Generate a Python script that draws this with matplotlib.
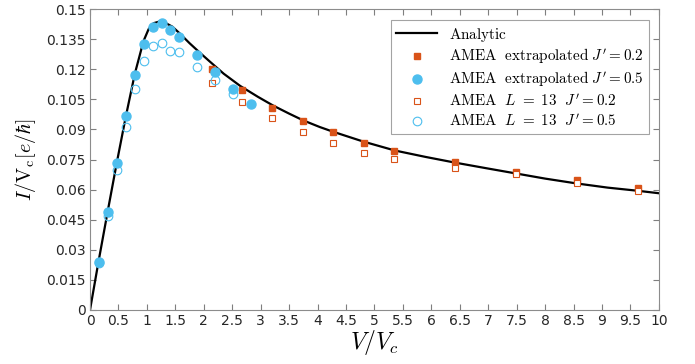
import numpy as np
import matplotlib
matplotlib.use("Agg")
import matplotlib.pyplot as plt

plt.rcParams['mathtext.fontset'] = 'cm'

# analytic curve
v_an = [0, 0.15, 0.31, 0.47, 0.63, 0.79, 0.94, 1.03, 1.12, 1.22, 1.32, 1.45,
        1.58, 1.75, 1.93, 2.10, 2.35, 2.64, 2.95, 3.22, 3.50, 3.75, 4.04, 4.28,
        4.80, 5.36, 5.90, 6.41, 7.00, 7.50, 8.00, 8.55, 9.10, 9.64, 10.0]
i_an = [0, 0.0242, 0.0490, 0.0733, 0.0965, 0.1180, 0.1340, 0.1400, 0.1430,
        0.1438, 0.1432, 0.1412, 0.1378, 0.1330, 0.1283, 0.1240, 0.1178, 0.1117,
        0.1063, 0.1019, 0.0979, 0.0945, 0.0912, 0.0888, 0.0840, 0.0795, 0.0763,
        0.0735, 0.0705, 0.0680, 0.0655, 0.0631, 0.0610, 0.0594, 0.0582]

# AMEA J'=0.2
v_02 = [2.14, 2.67, 3.20, 3.74, 4.28, 4.81, 5.35, 6.42, 7.49, 8.56, 9.63]
i_02_ext = [0.1201, 0.1095, 0.1008, 0.0940, 0.0885, 0.0832, 0.0795,
            0.0737, 0.0690, 0.0648, 0.0606]
i_02_L13 = [0.1133, 0.1036, 0.0955, 0.0887, 0.0834, 0.0781, 0.0754,
            0.0709, 0.0676, 0.0634, 0.0595]

# AMEA J'=0.5
v_05 = [0.157, 0.314, 0.471, 0.628, 0.785, 0.942, 1.100, 1.257, 1.414,
        1.571, 1.885, 2.199, 2.513, 2.827]
i_05_ext = [0.0240, 0.0488, 0.0732, 0.0965, 0.1170, 0.1325, 0.1412, 0.1432,
            0.1398, 0.1362, 0.1269, 0.1186, 0.1100, 0.1025]
v_05_L13 = v_05[:13]
i_05_L13 = [0.0233, 0.0468, 0.0697, 0.0913, 0.1100, 0.1241, 0.1315, 0.1332,
            0.1292, 0.1284, 0.1209, 0.1146, 0.1078]

orange = '#D95319'
blue = '#4DBEEE'

fig = plt.figure(figsize=(6.95, 3.64), dpi=100)
ax = fig.add_axes([0.1295, 0.1484, 0.8185, 0.8266])

ax.plot(v_an, i_an, color='black', lw=1.6, label=r'$\mathrm{Analytic}$')
ax.plot(v_02, i_02_ext, 's', color=orange, ms=4.5, mec=orange,
        label=r"$\mathrm{AMEA\ \ extrapolated}\ J^{\prime}=0.2$")
ax.plot(v_05, i_05_ext, 'o', color=blue, ms=6.5, mec=blue,
        label=r"$\mathrm{AMEA\ \ extrapolated}\ J^{\prime}=0.5$")
ax.plot(v_02, i_02_L13, 's', mfc='white', mec=orange, ms=4.5, mew=0.8,
        label=r"$\mathrm{AMEA}\ \ L\ =\ 13\ \ J^{\prime}=0.2$")
ax.plot(v_05_L13, i_05_L13, 'o', mfc='none', mec=blue, ms=6.2, mew=0.8,
        label=r"$\mathrm{AMEA}\ \ L\ =\ 13\ \ J^{\prime}=0.5$")

ax.set_xlim(0, 10)
ax.set_ylim(0, 0.15)
ax.set_xticks(np.arange(0, 10.01, 0.5))
ax.set_xticklabels(['0', '0.5', '1', '1.5', '2', '2.5', '3', '3.5', '4', '4.5',
                    '5', '5.5', '6', '6.5', '7', '7.5', '8', '8.5', '9', '9.5', '10'])
yt = np.arange(0, 0.1501, 0.015)
ax.set_yticks(yt)
ax.set_yticklabels(['0', '0.015', '0.03', '0.045', '0.06', '0.075', '0.09',
                    '0.105', '0.12', '0.135', '0.15'])

ax.tick_params(direction='in', top=True, right=True, length=4, width=0.8,
               color='#7f7f7f', labelcolor='#262626', labelsize=10, pad=3)
for s in ax.spines.values():
    s.set_color('#8c8c8c')
    s.set_linewidth(0.8)

ax.set_xlabel(r'$V/V_c$', fontsize=17, labelpad=0)
ax.set_ylabel(r'$I/\mathrm{V_c}[e/\hbar]$', fontsize=14.5, labelpad=6)

leg = ax.legend(loc='upper right', bbox_to_anchor=(0.983, 0.963), fontsize=10.9,
                frameon=True, fancybox=False, edgecolor='#8c8c8c',
                handlelength=2.7, handletextpad=0.8, borderpad=0.35,
                labelspacing=0.25, borderaxespad=0)
leg.get_frame().set_linewidth(0.8)

fig.savefig('out.png', dpi=100)
